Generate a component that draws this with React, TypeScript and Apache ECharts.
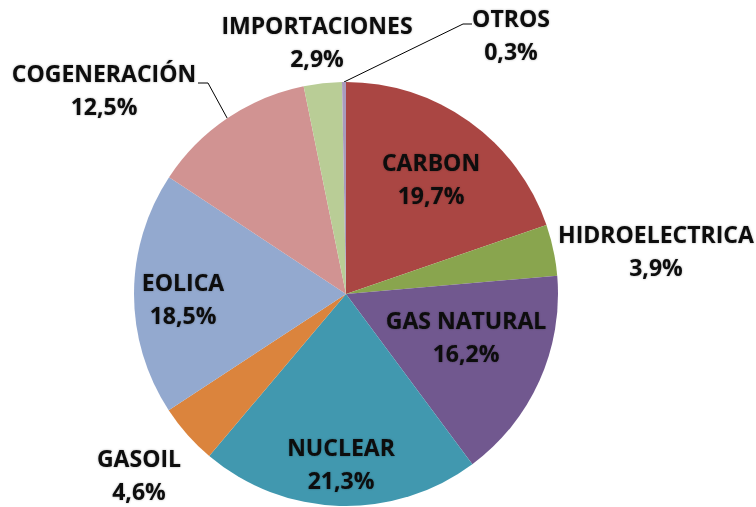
import React, { useEffect, useRef } from "react";
import * as echarts from "echarts";

const CATEGORIES = [
  "CARBON",
  "HIDROELECTRICA",
  "GAS NATURAL",
  "NUCLEAR",
  "GASOIL",
  "EOLICA",
  "COGENERACIÓN",
  "IMPORTACIONES",
  "OTROS",
];
const VALUES = [19.7, 3.9, 16.2, 21.3, 4.6, 18.5, 12.5, 2.9, 0.3];
const COLORS = [
  "#AA4643",
  "#89A54E",
  "#71588F",
  "#4198AF",
  "#DB843D",
  "#93A9CF",
  "#D19392",
  "#B9CD96",
  "#A99BBD",
];

// label block centres (layout only)
const LABEL_POS: [number, number][] = [
  [431, 178],
  [656, 250],
  [466, 336],
  [341, 463],
  [139, 474],
  [183, 298],
  [104, 89],
  [317, 41],
  [511, 34],
];
// leader line bend/end points for the labels that have one (layout only)
const LEADERS: Record<number, [number, number][]> = {
  6: [
    [208, 83],
    [198, 83],
  ],
  8: [
    [463, 24],
    [472, 24],
  ],
};

export default function App() {
  const ref = useRef<HTMLDivElement>(null);
  useEffect(() => {
    if (!ref.current) return;
    const chart = echarts.init(ref.current, undefined, { renderer: "svg" });
    const data = CATEGORIES.map((name, i) => ({
      name,
      value: VALUES[i],
      itemStyle: { color: COLORS[i] },
      labelLine: { show: !!LEADERS[i] },
    }));
    chart.setOption({
      animation: false,
      backgroundColor: "#ffffff",
      series: [
        {
          type: "pie",
          center: [346, 294],
          radius: 212,
          startAngle: 90,
          clockwise: true,
          avoidLabelOverlap: false,
          itemStyle: { borderWidth: 0 },
          emphasis: { disabled: true },
          label: {
            show: true,
            position: "outside",
            formatter: (p: any) =>
              p.name + "\n" + Number(p.value).toFixed(1).replace(".", ",") + "%",
            fontFamily: "Open Sans",
            fontWeight: 700,
            fontSize: 23,
            lineHeight: 33,
            color: "#0a0a0a",
            textShadowColor: "rgba(0,0,0,0.3)",
            textShadowBlur: 2,
          },
          labelLine: {
            show: true,
            lineStyle: { color: "#000000", width: 1 },
          },
          labelLayout: (params: any) => {
            const i = params.dataIndex;
            const [x, y] = LABEL_POS[i];
            const res: any = { x, y, align: "center", verticalAlign: "middle" };
            if (LEADERS[i] && params.labelLinePoints) {
              res.labelLinePoints = [params.labelLinePoints[0], ...LEADERS[i]];
            }
            return res;
          },
          data,
        },
      ],
    });
    return () => chart.dispose();
  }, []);
  return (
    <div
      ref={ref}
      style={{ position: "fixed", left: 0, top: 0, width: 756, height: 507 }}
    />
  );
}
